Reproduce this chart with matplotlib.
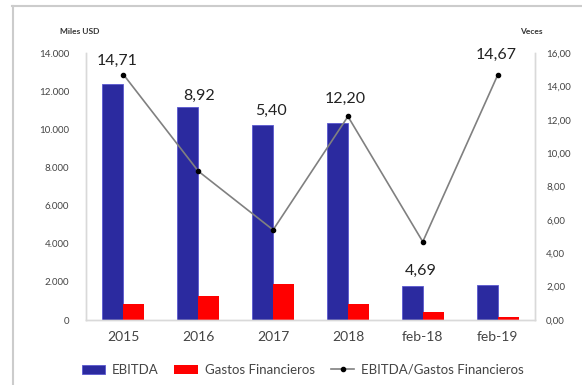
import matplotlib.pyplot as plt
from matplotlib.lines import Line2D
from matplotlib.ticker import FuncFormatter
import numpy as np

plt.rcParams['font.family'] = ['Lato', 'DejaVu Sans']

# EBITDA vs gastos financieros (miles USD) y cobertura (veces)
periodos = ['2015', '2016', '2017', '2018', 'feb-18', 'feb-19']
ebitda = [12400, 11170, 10230, 10330, 1780, 1830]
gastos_fin = [840, 1260, 1890, 840, 420, 160]
cobertura = [14.71, 8.92, 5.40, 12.20, 4.69, 14.67]

# label offsets (pixels) relative to each ratio point
label_off = [(-6, 14), (1, 75), (-2, 119), (-3, 18), (-2, -29), (-1, 20)]

fig = plt.figure(figsize=(5.82, 3.85), dpi=100)
ax = fig.add_axes([0.1478, 0.1688, 0.7715, 0.6935])
ax2 = ax.twinx()

x = np.arange(len(periodos))
w = 0.28
ax.bar(x - w / 2, ebitda, w, color='#2B2A9F', edgecolor='#5A58D0', linewidth=0.6, label='EBITDA')
ax.bar(x + w / 2, gastos_fin, w, color='#FF0000', label='Gastos Financieros')

ax2.plot(x, cobertura, color='#808080', linewidth=1.2, marker='o', markersize=3,
         markerfacecolor='black', markeredgecolor='black', label='EBITDA/Gastos Financieros')

for xi, v, (dx, dy) in zip(x, cobertura, label_off):
    ax2.annotate(f'{v:.2f}'.replace('.', ','), (xi, v), xytext=(dx, dy),
                 textcoords='offset pixels', ha='center', va='center',
                 fontsize=11.5, color='#222222')

ax.set_xlim(-0.5, 5.5)
ax.set_ylim(0, 14000)
ax2.set_ylim(0, 16)
ax.set_yticks(np.arange(0, 14001, 2000))
ax2.set_yticks(np.arange(0, 16.1, 2))
ax.yaxis.set_major_formatter(FuncFormatter(lambda v, p: f'{int(v):,}'.replace(',', '.')))
ax2.yaxis.set_major_formatter(FuncFormatter(lambda v, p: f'{v:.2f}'.replace('.', ',')))
ax.set_xticks(x)
ax.set_xticklabels(periodos, fontsize=10, color='#444444')

ax.tick_params(axis='y', length=0, pad=12, labelsize=7, labelcolor='#444444')
ax2.tick_params(axis='y', length=0, pad=8, labelsize=7, labelcolor='#444444')
ax.tick_params(axis='x', length=0, pad=8)

for a in (ax, ax2):
    a.spines['top'].set_visible(False)
    for s in ('left', 'right', 'bottom'):
        a.spines[s].set_color('#D9D9D9')
        a.spines[s].set_linewidth(1.0)

fig.text(60 / 582, 1 - 31 / 385, 'Miles USD', fontsize=6, fontweight='bold', color='#333333', va='center')
fig.text(520 / 582, 1 - 31 / 385, 'Veces', fontsize=6, fontweight='bold', color='#333333', va='center')

h1, l1 = ax.get_legend_handles_labels()
h2, l2 = ax2.get_legend_handles_labels()
fig.legend(h1 + h2, l1 + l2, loc='center', bbox_to_anchor=(0.52, 1 - 370 / 385), ncol=3,
           frameon=False, fontsize=9.5, handlelength=1.8, handleheight=0.7,
           columnspacing=1.2, handletextpad=0.5, labelcolor='#444444')

# outer frame lines
fig.add_artist(Line2D([12 / 582, 1], [1 - 6 / 385] * 2, transform=fig.transFigure, color='#CCCCCC', linewidth=1.5))
fig.add_artist(Line2D([13 / 582] * 2, [0, 1 - 6 / 385], transform=fig.transFigure, color='#CCCCCC', linewidth=1.5))

fig.savefig('out.png', dpi=100)
